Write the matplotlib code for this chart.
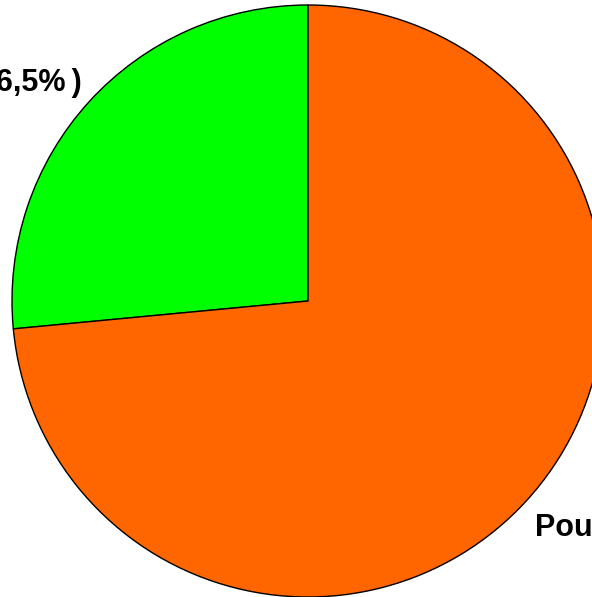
import matplotlib
matplotlib.use("Agg")
import matplotlib.pyplot as plt

categories = ["Contre", "Pour"]
values = [26.5, 73.5]
labels = ["Contre (26,5%\u2009)", "Pour (73,5%)"]
colors = ["#00ff00", "#ff6600"]

W, H = 592, 597
fig = plt.figure(figsize=(W / 100, H / 100), dpi=100)
ax = fig.add_axes([0, 0, 1, 1])

cx, cy, r = 308, H - 301, 296
ax.pie(values, colors=colors, startangle=90, counterclock=True,
       center=(cx, cy), radius=r, frame=True,
       wedgeprops=dict(edgecolor="black", linewidth=1.0))
ax.set_xlim(0, W)
ax.set_ylim(0, H)
ax.set_aspect("equal")
ax.axis("off")

font = dict(family=["Liberation Sans", "DejaVu Sans"], fontsize=22, fontweight="bold")
ax.text(82, H - 91, labels[0], ha="right", va="baseline", **font)
ax.text(535, H - 536, labels[1], ha="left", va="baseline", **font)

fig.savefig("out.png", dpi=100)
